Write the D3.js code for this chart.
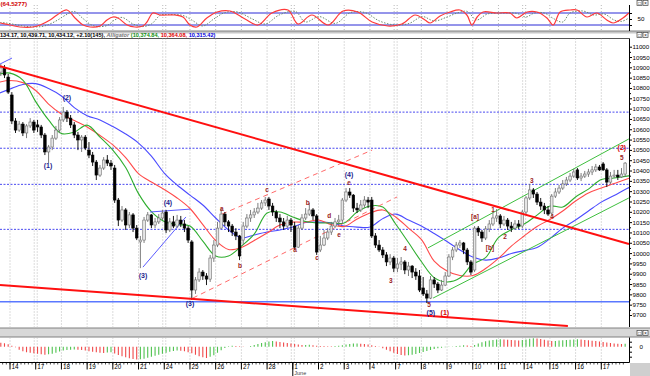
<!DOCTYPE html>
<html>
<head>
<meta charset="utf-8">
<script src="https://cdn.jsdelivr.net/npm/d3@7"></script>
<style>
    body {margin: 0; background: #fff; overflow: hidden}
    svg {display: block; font-family: "Liberation Sans", Arial, sans-serif}
</style>
</head>
<body>
<svg id="chart" width="650" height="376"></svg>
<script>
// hourly DJIA bars, 13 May (last 3 hours) to 17 June; each row is open, high, low, close
const bars = [
    [10877, 10916, 10858, 10897], [10897, 10911, 10848, 10863], [10853, 10868, 10771, 10780],
    // May 14
    [10766, 10780, 10625, 10640], [10640, 10654, 10582, 10596], [10596, 10640, 10587, 10625], [10625, 10635, 10567, 10582],
    [10582, 10625, 10557, 10616], [10616, 10654, 10606, 10635], [10635, 10645, 10582, 10596],
    // May 17
    [10621, 10645, 10587, 10611], [10611, 10621, 10557, 10572], [10572, 10582, 10475, 10490], [10490, 10524, 10436, 10514],
    [10514, 10572, 10499, 10557], [10557, 10616, 10548, 10596], [10596, 10659, 10582, 10645],
    // May 18
    [10645, 10708, 10635, 10683], [10683, 10693, 10635, 10654], [10654, 10669, 10606, 10621], [10621, 10635, 10557, 10572],
    [10572, 10587, 10499, 10548], [10548, 10572, 10490, 10562], [10562, 10572, 10499, 10509],
    // May 19
    [10499, 10538, 10460, 10475], [10475, 10490, 10422, 10441], [10441, 10451, 10354, 10378], [10378, 10427, 10369, 10412],
    [10412, 10465, 10403, 10451], [10451, 10475, 10422, 10436], [10436, 10451, 10403, 10422],
    // May 20
    [10412, 10427, 10243, 10257], [10257, 10267, 10131, 10160], [10160, 10228, 10151, 10209], [10209, 10218, 10112, 10136],
    [10136, 10199, 10121, 10185], [10185, 10194, 10102, 10121], [10121, 10136, 10063, 10073],
    // May 21
    [10054, 10083, 9927, 10063], [10063, 10175, 10049, 10160], [10160, 10199, 10151, 10185], [10185, 10189, 10121, 10136],
    [10136, 10170, 10121, 10151], [10151, 10189, 10141, 10170], [10170, 10209, 10160, 10194],
    // May 24
    [10199, 10209, 10097, 10112], [10112, 10170, 10102, 10151], [10151, 10180, 10121, 10131], [10131, 10185, 10121, 10160],
    [10160, 10180, 10126, 10141], [10141, 10160, 10102, 10121], [10121, 10131, 10049, 10063],
    // May 25
    [10054, 10063, 9773, 9821], [9821, 9884, 9802, 9870], [9870, 9927, 9860, 9908], [9908, 9918, 9870, 9889],
    [9889, 9903, 9845, 9874], [9874, 9991, 9860, 9976], [9976, 10063, 9957, 10039],
    // May 26
    [10039, 10151, 10029, 10121], [10121, 10213, 10116, 10189], [10189, 10199, 10131, 10151], [10151, 10160, 10102, 10131],
    [10131, 10141, 10083, 10102], [10102, 10121, 10063, 10083], [10083, 10088, 9966, 9986],
    // May 27
    [10063, 10151, 10039, 10131], [10131, 10189, 10121, 10170], [10170, 10209, 10151, 10185], [10185, 10218, 10170, 10199],
    [10199, 10243, 10189, 10218], [10218, 10257, 10209, 10243], [10243, 10272, 10228, 10257],
    // May 28
    [10262, 10272, 10209, 10228], [10228, 10243, 10180, 10199], [10199, 10209, 10151, 10170], [10170, 10189, 10121, 10151],
    [10151, 10170, 10112, 10131], [10131, 10180, 10121, 10160], [10160, 10170, 10102, 10136],
    // Jun 1
    [10131, 10151, 10015, 10029], [10029, 10136, 10025, 10121], [10121, 10189, 10112, 10170], [10170, 10218, 10160, 10189],
    [10189, 10243, 10180, 10209], [10209, 10218, 10160, 10180], [10180, 10189, 9991, 10005],
    // Jun 2
    [10015, 10083, 10005, 10039], [10039, 10112, 10034, 10073], [10073, 10121, 10063, 10102], [10102, 10151, 10088, 10131],
    [10131, 10170, 10121, 10151], [10151, 10185, 10131, 10160], [10160, 10267, 10141, 10257],
    // Jun 3
    [10257, 10315, 10247, 10296], [10296, 10315, 10267, 10281], [10281, 10286, 10199, 10218], [10218, 10243, 10194, 10209],
    [10209, 10257, 10199, 10233], [10233, 10276, 10218, 10257], [10257, 10272, 10218, 10247],
    // Jun 4
    [10257, 10272, 10073, 10083], [10083, 10097, 10025, 10039], [10039, 10063, 10005, 10015], [10015, 10029, 9976, 9991],
    [9991, 10005, 9937, 9957], [9957, 9995, 9942, 9976], [9976, 9986, 9908, 9927],
    // Jun 7
    [9927, 9976, 9908, 9947], [9947, 9981, 9918, 9957], [9957, 9966, 9898, 9918], [9918, 9957, 9889, 9937],
    [9937, 9942, 9879, 9908], [9908, 9927, 9870, 9889], [9889, 9918, 9811, 9821],
    // Jun 8
    [9831, 9884, 9792, 9802], [9802, 9821, 9758, 9782], [9782, 9889, 9777, 9870], [9870, 9884, 9831, 9850],
    [9850, 9860, 9806, 9821], [9821, 9870, 9816, 9845], [9845, 9908, 9840, 9889],
    // Jun 9
    [9889, 9995, 9884, 9981], [9981, 10029, 9966, 10015], [10015, 10054, 10005, 10039], [10039, 10063, 10025, 10049],
    [10049, 10054, 9995, 10015], [10015, 10025, 9942, 9957], [9957, 9966, 9894, 9908],
    // Jun 10
    [9918, 10131, 9908, 10121], [10121, 10131, 10083, 10102], [10102, 10112, 10054, 10073], [10073, 10131, 10063, 10117],
    [10117, 10160, 10102, 10141], [10141, 10199, 10131, 10170], [10170, 10213, 10151, 10180],
    // Jun 11
    [10180, 10189, 10121, 10141], [10141, 10180, 10131, 10160], [10160, 10170, 10112, 10131], [10131, 10151, 10102, 10121],
    [10121, 10160, 10112, 10141], [10141, 10160, 10117, 10131], [10131, 10209, 10121, 10199],
    // Jun 14
    [10199, 10276, 10189, 10267], [10267, 10335, 10257, 10306], [10306, 10315, 10267, 10286], [10286, 10296, 10233, 10247],
    [10247, 10267, 10209, 10228], [10228, 10243, 10189, 10209], [10209, 10228, 10180, 10189],
    // Jun 15
    [10194, 10286, 10180, 10276], [10276, 10315, 10267, 10296], [10296, 10330, 10286, 10315], [10315, 10354, 10306, 10335],
    [10335, 10369, 10325, 10354], [10354, 10388, 10344, 10373], [10373, 10408, 10364, 10393],
    // Jun 16
    [10403, 10412, 10354, 10364], [10364, 10388, 10349, 10373], [10373, 10398, 10364, 10383], [10383, 10408, 10369, 10393],
    [10393, 10422, 10378, 10403], [10403, 10432, 10393, 10417], [10417, 10427, 10398, 10403],
    // Jun 17
    [10432, 10441, 10398, 10403], [10403, 10412, 10320, 10344], [10344, 10393, 10335, 10373], [10373, 10403, 10364, 10378],
    [10378, 10403, 10354, 10369], [10369, 10412, 10364, 10383], [10383, 10441, 10369, 10436],
]

const dayLabels = ["14", "17", "18", "19", "20", "21", "24", "25", "26", "27", "28", "1", "2", "3", "4", "7", "8", "9", "10", "11", "14", "15", "16", "17"]
const weekStarts = [1, 6, 11, 15, 20]
const monthDay = 11
const monthName = "June"
const barsPerDay = 7

// Alligator lines read every half session, first sample half a day before 14 May
const jaw = [10771, 10795, 10817, 10821, 10797, 10761, 10705, 10666, 10645, 10613, 10577, 10533, 10470, 10388, 10330, 10281,
    10233, 10170, 10112, 10073, 10088, 10102, 10112, 10126, 10148, 10150, 10146, 10131, 10126, 10126, 10167, 10189, 10160,
    10131, 10095, 10056, 10015, 9981, 9966, 9976, 9998, 10012, 10027, 10070, 10121, 10160, 10204, 10247, 10279, 10313, 10339]
const teeth = [10826, 10836, 10826, 10788, 10722, 10674, 10642, 10611, 10570, 10524, 10463, 10385, 10344, 10308, 10267, 10216,
    10138, 10061, 10017, 10027, 10061, 10097, 10136, 10150, 10150, 10160, 10138, 10129, 10165, 10194, 10209, 10175, 10121,
    10066, 9961, 9913, 9891, 9891, 9925, 9974, 10034, 10083, 10129, 10163, 10204, 10252, 10291, 10315, 10337, 10359, 10378]
const lips = [10865, 10872, 10838, 10734, 10645, 10579, 10586, 10620, 10562, 10499, 10415, 10288, 10201, 10153, 10138, 10131,
    10058, 9986, 9986, 10034, 10092, 10194, 10199, 10175, 10153, 10146, 10146, 10146, 10199, 10228, 10223, 10141, 10051,
    9959, 9881, 9860, 9879, 9947, 9978, 10075, 10113, 10141, 10184, 10228, 10223, 10272, 10310, 10356, 10364, 10373, 10383]

// stochastic, [bar position, value]
const stochK = [[-2.7, 30], [0, 20], [2.7, 10], [6.3, 10], [8.2, 20], [10.9, 45], [12.8, 70], [15.5, 95], [17.7, 55], [19.9, 20],
    [21.8, 10], [24.5, 15], [26.4, 45], [28, 60], [29.4, 55], [31.9, 20], [34, 10], [36.2, 15], [37.3, 35], [38.9, 80], [40.8, 70],
    [44.9, 70], [47.1, 60], [49, 20], [50.9, 10], [53.6, 55], [56.4, 85], [59.9, 90], [64, 50], [67.5, 20], [71.3, 80], [75.7, 95],
    [78.4, 25], [82.2, 70], [86.6, 20], [90.7, 90], [94.7, 85], [98.6, 35], [102.9, 15], [106.7, 25], [110.3, 70], [113, 45],
    [114.4, 30], [117.1, 65], [119.8, 85], [122.5, 95], [124.4, 70], [125.8, 20], [127.2, 60], [128.8, 85], [132.6, 80],
    [136.1, 80], [138, 55], [140.8, 85], [143.5, 85], [146.2, 55], [147.9, 20], [149.8, 85], [152.5, 95], [154.4, 95],
    [157.1, 60], [159.8, 80], [162.5, 45], [164.2, 30], [166.9, 55], [168.5, 80]]
const stochD = [[-2.7, 32], [-1, 30], [2, 20], [5, 12], [8.5, 12], [10.5, 22], [13, 45], [15, 68], [17.5, 88], [19.7, 55], [22, 22],
    [24, 12], [26.5, 18], [28.5, 45], [30.5, 58], [33.5, 25], [36, 12], [38.5, 25], [41, 70], [43, 72], [47, 68], [49.5, 45],
    [52.5, 15], [55.5, 50], [58.5, 82], [62, 85], [66, 50], [69.5, 25], [73.3, 70], [77.7, 88], [80.4, 35], [84.2, 62], [88.6, 28],
    [92.7, 82], [96.7, 82], [100.6, 40], [104.9, 20], [108.7, 28], [112.3, 62], [115.5, 40], [119, 60], [121.8, 80], [124.5, 88],
    [127, 45], [130, 75], [134.6, 80], [138, 78], [140.5, 60], [142.8, 80], [145.5, 80], [148.2, 50], [150.5, 35], [152.5, 80],
    [156, 90], [159, 70], [161.8, 75], [164.5, 45], [166.5, 38], [168.5, 55]]

// oscillator histogram, one value per bar
const histo = [40, 35, 25,
    10, -5, -30, -45, -55, -60, -65,
    -70, -75, -80, -76, -70, -60, -48,
    -38, -32, -30, -28, -31, -34, -38,
    -45, -50, -55, -60, -62, -58, -55,
    -68, -82, -95, -105, -115, -122, -128,
    -126, -120, -110, -100, -90, -80, -70,
    -60, -50, -42, -38, -40, -46, -55,
    -65, -80, -95, -105, -112, -100, -85,
    -60, -35, -12, 5, 10, 8, 4,
    2, 0, 8, 18, 28, 38, 45,
    52, 56, 52, 47, 42, 37, 32,
    26, 21, 16, 17, 19, 15, 10,
    8, 6, 5, 4, 7, 10, 14,
    22, 28, 31, 33, 30, 26, 21,
    14, 6, -3, -15, -30, -45, -60,
    -72, -82, -88, -86, -80, -72, -62,
    -52, -42, -32, -24, -16, -10, -6,
    -3, 2, 6, 10, 14, 12, 8,
    18, 32, 44, 54, 62, 68, 72,
    75, 72, 70, 68, 65, 62, 66,
    72, 80, 85, 82, 76, 69, 62,
    56, 58, 62, 65, 68, 70, 72,
    75, 72, 68, 64, 60, 56, 52,
    48, 43, 38, 33, 29, 26, 30]

// levels and drawn lines, in [bar position, price]
const dottedLevels = [10683, 10508, 10333, 10115]
const supportLevel = 9764
const thickLines = [[[-2.72, 10906], [168.54, 10044]], [[-2.72, 9845], [151.9, 9647]]]
const dashedLines = [[[57.7, 10189], [98.6, 10499]], [[49.8, 9782], [105.4, 10272]]]
const channelLines = [[[113.8, 10025], [168.5, 10553]], [[115.2, 9782], [168.5, 10267]]]
const blueLines = [[[36.2, 9932], [47.9, 10175]], [[38.1, 10199], [49.0, 10213]], [[-2.72, 10916], [0.54, 10945]]]

// wave labels: text, bar position, price, kind
const waveLabels = [
    ["(1)", 10.35, 10422, "blue"], ["(2)", 15.5, 10756, "blue"], ["(3)", 36.2, 9889, "blue"], ["(4)", 43.0, 10243, "blue"],
    ["(3)", 49.0, 9758, "blue"], ["(4)", 92.3, 10383, "blue"], ["(5)", 114.6, 9710, "blue"],
    ["(1)", 118.4, 9710, "red"], ["(2)", 166.6, 10514, "red"], ["5", 166.6, 10465, "minor"],
    ["a", 57.7, 10218, "minor"], ["b", 62.6, 9942, "minor"], ["c", 70, 10306, "minor"], ["a", 77.6, 10015, "minor"],
    ["b", 81.1, 10243, "minor"], ["c", 83.6, 9981, "minor"], ["d", 86.9, 10180, "minor"], ["e", 89.6, 10088, "minor"],
    ["e", 92.3, 10340, "minor"], ["3", 103.7, 9865, "minor"], ["4", 107.6, 10020, "minor"], ["5", 114.1, 9753, "minor"],
    ["[a]", 126.6, 10175, "minor"], ["[b]", 130.7, 10029, "minor"], ["1", 131.5, 10213, "minor"], ["2", 134.8, 10078, "minor"],
    ["3", 142.1, 10354, "minor"], ["4", 147.6, 10175, "minor"]
]

const stochTitle = "(64.5277)"
const priceTitle = [
    ["134.17, 10,439.71, 10,434.12, +2.10(145), ", "#000", "normal"],
    ["Alligator ", "#777", "italic"],
    ["(10,374.84, ", "#109010", "normal"],
    ["10,364.08, ", "#e00000", "normal"],
    ["10,315.42)", "#0000e0", "normal"]
]

const svg = d3.select("#chart")
const plotRight = 629.5
const mainTop = 38.5, mainBottom = 327
const oscTop = 5, oscBottom = 31
const histTop = 337.5, histBottom = 362.5

const xB = d3.scaleLinear().domain([0, 168]).range([10, 627])
const barX = i => xB(i - 3 + 0.5)
const y = d3.scaleLinear().domain([9700, 11000]).range([315, 46.7])
const oscY = d3.scaleLinear().domain([0, 100]).range([29, 9])
const histY = d3.scaleLinear().domain([-130, 80]).range([359.7, 338.7])

const defs = svg.append("defs")

function clip(id, top, bottom) {
    defs.append("clipPath").attr("id", id)
        .append("rect").attr("x", 0).attr("y", top).attr("width", plotRight).attr("height", bottom - top)
    return svg.append("g").attr("clip-path", `url(#${id})`)
}

// panel chrome
svg.append("rect").attr("x", 0).attr("y", 31).attr("width", 650).attr("height", 2.5).attr("fill", "#c8c8c8")
svg.append("line").attr("x1", 0).attr("x2", 650).attr("y1", 31).attr("y2", 31).attr("stroke", "#808080")
svg.append("line").attr("x1", 0).attr("x2", plotRight).attr("y1", mainTop).attr("y2", mainTop).attr("stroke", "#555")
svg.append("rect").attr("x", 0).attr("y", 328).attr("width", 650).attr("height", 9).attr("fill", "#d8d8d8")
svg.append("line").attr("x1", 0).attr("x2", 650).attr("y1", 328).attr("y2", 328).attr("stroke", "#808080")
svg.append("line").attr("x1", 0).attr("x2", 650).attr("y1", 337).attr("y2", 337).attr("stroke", "#808080")
svg.append("rect").attr("x", 630).attr("y", 363).attr("width", 20).attr("height", 13).attr("fill", "#cfcfcf")

function icons(top) {
    [637, 643].forEach((ix, k) => {
        svg.append("rect").attr("x", ix).attr("y", top).attr("width", 5).attr("height", 5)
            .attr("fill", "#fff").attr("stroke", "#444").attr("stroke-width", 0.7)
        svg.append("text").attr("x", ix + 2.5).attr("y", top + 4.3).attr("text-anchor", "middle")
            .attr("font-size", 5).attr("fill", "#222").text(k === 0 ? "□" : "×")
    })
}
icons(0.5)
icons(32.5)
icons(330.5)

// vertical day grid
function dayGrid(g, top, bottom) {
    dayLabels.forEach((lab, d) => {
        const xs = weekStarts.includes(d) ? [xB(d * barsPerDay) - 1.5, xB(d * barsPerDay) + 1.5] : [xB(d * barsPerDay)]
        xs.forEach(xx => {
            g.append("line").attr("x1", xx).attr("x2", xx).attr("y1", top).attr("y2", bottom)
                .attr("stroke", "#b8b8b8").attr("stroke-dasharray", "1,2")
        })
    })
}

// ---- top oscillator ----
const osc = clip("clipOsc", oscTop, oscBottom)
dayGrid(osc, oscTop, oscBottom)
;[80, 20].forEach(v => {
    osc.append("line").attr("x1", 0).attr("x2", plotRight).attr("y1", oscY(v)).attr("y2", oscY(v))
        .attr("stroke", "#2b2bd6").attr("stroke-width", 1)
})
const oscLine = d3.line().x(d => xB(d[0])).y(d => oscY(d[1])).curve(d3.curveCatmullRom.alpha(0.5))
osc.append("path").attr("d", oscLine(stochD)).attr("fill", "none")
    .attr("stroke", "#6b8a6b").attr("stroke-width", 1).attr("stroke-dasharray", "1.5,1.5")
osc.append("path").attr("d", oscLine(stochK)).attr("fill", "none")
    .attr("stroke", "#ff3a3a").attr("stroke-width", 1.2)

svg.append("text").attr("x", 0.5).attr("y", 6).attr("font-size", 6.2).attr("font-weight", "bold")
    .attr("fill", "#d00000").text(stochTitle)

const oscAxis = svg.append("g").attr("transform", `translate(${plotRight},0)`)
    .call(d3.axisRight(oscY).tickValues([20, 50, 80]).tickSize(2.5).tickSizeOuter(0)
        .tickFormat(d => d === 50 ? "50" : ""))
oscAxis.select(".domain").attr("d", `M0,${oscTop}V${oscBottom}`)
oscAxis.selectAll("text").attr("font-size", 6.2).attr("x", 8).attr("font-family", "Liberation Sans, Arial")

// ---- main price panel ----
const main = clip("clipMain", mainTop, mainBottom)
dayGrid(main, mainTop, mainBottom)

dottedLevels.forEach(v => {
    main.append("line").attr("x1", 0).attr("x2", plotRight).attr("y1", y(v)).attr("y2", y(v))
        .attr("stroke", "#4848f0").attr("stroke-dasharray", "2,1.5").attr("stroke-width", 1)
})
main.append("line").attr("x1", 0).attr("x2", plotRight).attr("y1", y(supportLevel)).attr("y2", y(supportLevel))
    .attr("stroke", "#5a78ff").attr("stroke-width", 1.6)

const halfDay = (d, k) => [k * 3.5 - 3.5, d]
const gatorLine = d3.line().x(d => xB(d[0])).y(d => y(d[1])).curve(d3.curveCatmullRom.alpha(0.5))
;[[jaw, "#4b4bff"], [teeth, "#ff4b4b"], [lips, "#2fae2f"]].forEach(([vals, col]) => {
    main.append("path").attr("d", gatorLine(vals.map((v, k) => halfDay(v, k))))
        .attr("fill", "none").attr("stroke", col).attr("stroke-width", 1.1)
})

const segLine = d3.line().x(d => xB(d[0])).y(d => y(d[1]))
dashedLines.forEach(l => {
    main.append("path").attr("d", segLine(l)).attr("stroke", "#ff6a6a").attr("stroke-width", 1)
        .attr("stroke-dasharray", "5,4").attr("fill", "none")
})
channelLines.forEach(l => {
    main.append("path").attr("d", segLine(l)).attr("stroke", "#3fbf3f").attr("stroke-width", 1).attr("fill", "none")
})
blueLines.forEach(l => {
    main.append("path").attr("d", segLine(l)).attr("stroke", "#5b5bff").attr("stroke-width", 1).attr("fill", "none")
})

// candles
const candleW = 2.6
const up = d => d[3] >= d[0]
const candles = main.append("g")
candles.selectAll("line").data(bars).join("line")
    .attr("x1", (d, i) => barX(i)).attr("x2", (d, i) => barX(i))
    .attr("y1", d => y(d[1])).attr("y2", d => y(d[2]))
    .attr("stroke", d => up(d) ? "#6e6e6e" : "#000").attr("stroke-width", 0.9)
candles.selectAll("rect").data(bars).join("rect")
    .attr("x", (d, i) => barX(i) - candleW / 2)
    .attr("y", d => y(Math.max(d[0], d[3])))
    .attr("width", candleW)
    .attr("height", d => Math.max(0.8, Math.abs(y(d[0]) - y(d[3]))))
    .attr("fill", d => up(d) ? "#e6e6e6" : "#000")
    .attr("stroke", d => up(d) ? "#6e6e6e" : "#000").attr("stroke-width", 0.6)

thickLines.forEach(l => {
    main.append("path").attr("d", segLine(l)).attr("stroke", "#ff1010").attr("stroke-width", 2).attr("fill", "none")
})

const labelColor = {blue: "#1e1e8e", red: "#d40000", minor: "#9a1c1c"}
main.selectAll("text.wave").data(waveLabels).join("text")
    .attr("class", "wave")
    .attr("x", d => xB(d[1])).attr("y", d => y(d[2]) + 2.5)
    .attr("text-anchor", "middle")
    .attr("font-size", d => d[3] === "minor" ? 6.5 : 7)
    .attr("font-weight", "bold")
    .attr("fill", d => labelColor[d[3]])
    .text(d => d[0])

const title = svg.append("text").attr("x", 0).attr("y", 37.2).attr("font-size", 5.6).attr("font-weight", "bold")
title.selectAll("tspan").data(priceTitle).join("tspan")
    .attr("fill", d => d[1]).attr("font-style", d => d[2]).text(d => d[0])

const priceAxis = svg.append("g").attr("transform", `translate(${plotRight},0)`)
    .call(d3.axisRight(y).tickValues(d3.range(9700, 11001, 50)).tickSize(2.5).tickSizeOuter(0).tickFormat(d3.format("d")))
priceAxis.select(".domain").attr("d", `M0,${mainTop}V${mainBottom}`)
priceAxis.selectAll("text").attr("font-size", 6.2).attr("x", 3).attr("font-family", "Liberation Sans, Arial")
svg.append("g").attr("transform", `translate(${plotRight},0)`)
    .call(d3.axisRight(y).tickValues(d3.range(9725, 11000, 50)).tickSize(1.5).tickSizeOuter(0).tickFormat(""))
    .select(".domain").remove()

// ---- histogram ----
const hist = clip("clipHist", histTop, histBottom)
dayGrid(hist, histTop, histBottom)
hist.selectAll("line.bar").data(histo).join("line")
    .attr("class", "bar")
    .attr("x1", (d, i) => barX(i)).attr("x2", (d, i) => barX(i))
    .attr("y1", histY(0)).attr("y2", d => histY(d))
    .attr("stroke", (d, i) => i > 0 && d > histo[i - 1] ? "#4fc24f" : "#f04848")
    .attr("stroke-width", 1.1)

const histAxis = svg.append("g").attr("transform", `translate(${plotRight},0)`)
    .call(d3.axisRight(histY).tickValues([-100, -50, 0, 50]).tickSize(2.5).tickSizeOuter(0)
        .tickFormat(d => d === 0 ? "0" : ""))
histAxis.select(".domain").attr("d", `M0,${histTop}V${histBottom}`)
histAxis.selectAll("text").attr("font-size", 6.2).attr("x", 10).attr("font-family", "Liberation Sans, Arial")

// ---- date axis ----
const axisY = 362.5
const dateAxis = svg.append("g")
dateAxis.append("line").attr("x1", 0).attr("x2", plotRight).attr("y1", axisY).attr("y2", axisY).attr("stroke", "#000")
dateAxis.selectAll("line.minor").data(d3.range(-3, 168)).join("line")
    .attr("class", "minor")
    .attr("x1", d => xB(d)).attr("x2", d => xB(d))
    .attr("y1", axisY).attr("y2", axisY + 2).attr("stroke", "#000").attr("stroke-width", 0.7)
dayLabels.forEach((lab, d) => {
    const xx = xB(d * barsPerDay)
    dateAxis.append("line").attr("x1", xx).attr("x2", xx).attr("y1", axisY).attr("y2", axisY + 7)
        .attr("stroke", "#000")
    dateAxis.append("text").attr("x", xx + 1.5).attr("y", axisY + 6.5).attr("font-size", 6.3)
        .attr("fill", "#000").text(lab)
    if (d === monthDay) {
        dateAxis.append("line").attr("x1", xx).attr("x2", xx).attr("y1", axisY).attr("y2", 376).attr("stroke", "#000")
        dateAxis.append("text").attr("x", xx + 1.5).attr("y", 375).attr("font-size", 5.5)
            .attr("fill", "#444").text(monthName)
    }
})
</script>
</body>
</html>
